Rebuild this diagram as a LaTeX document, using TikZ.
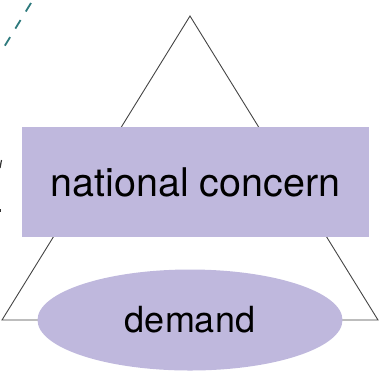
\documentclass[tikz,border=0pt]{standalone}
\usepackage{fontspec}
\setmainfont{TeX Gyre Heros}
\usetikzlibrary{shapes.geometric}
\definecolor{lav}{HTML}{BFB8DD}
\definecolor{teal2}{HTML}{2E7A7D}
\definecolor{edge}{HTML}{444444}
\begin{document}
\begin{tikzpicture}[x=1pt,y=-1pt,
  tri/.style={draw=edge,line width=0.9pt,line join=miter},
  boxnode/.style={fill=lav,inner sep=0pt,minimum width=347pt,minimum height=110pt,text=black,font=\fontsize{39.5}{41}\selectfont},
  ellnode/.style={ellipse,fill=lav,inner sep=0pt,minimum width=305pt,minimum height=101pt,text=black,font=\fontsize{36}{38}\selectfont},
  dashline/.style={draw=teal2,line width=1.8pt,dash pattern=on 10pt off 10pt},
  frag/.style={draw=black!80,line width=1.2pt}]
\useasboundingbox (0,0) rectangle (385,376);
\coordinate (apex) at (190,16);
\coordinate (bl) at (2,320);
\coordinate (br) at (378,320);
\draw[tri] (bl) -- (apex) -- (br) -- cycle;
\node[boxnode] (nc) at (195.5,182) {national concern};
\node[ellnode] (dm) at (190,320) {demand};
\coordinate (d1) at (31,3);
\coordinate (d2) at (1,52);
\draw[dashline] (d1) -- (d2);
\coordinate (f1) at (1.5,160);
\coordinate (f2) at (0,168);
\draw[frag] (f1) -- (f2);
\coordinate (f3) at (0.6,209);
\coordinate (f4) at (0.6,212);
\draw[frag] (f3) -- (f4);
\end{tikzpicture}
\end{document}
